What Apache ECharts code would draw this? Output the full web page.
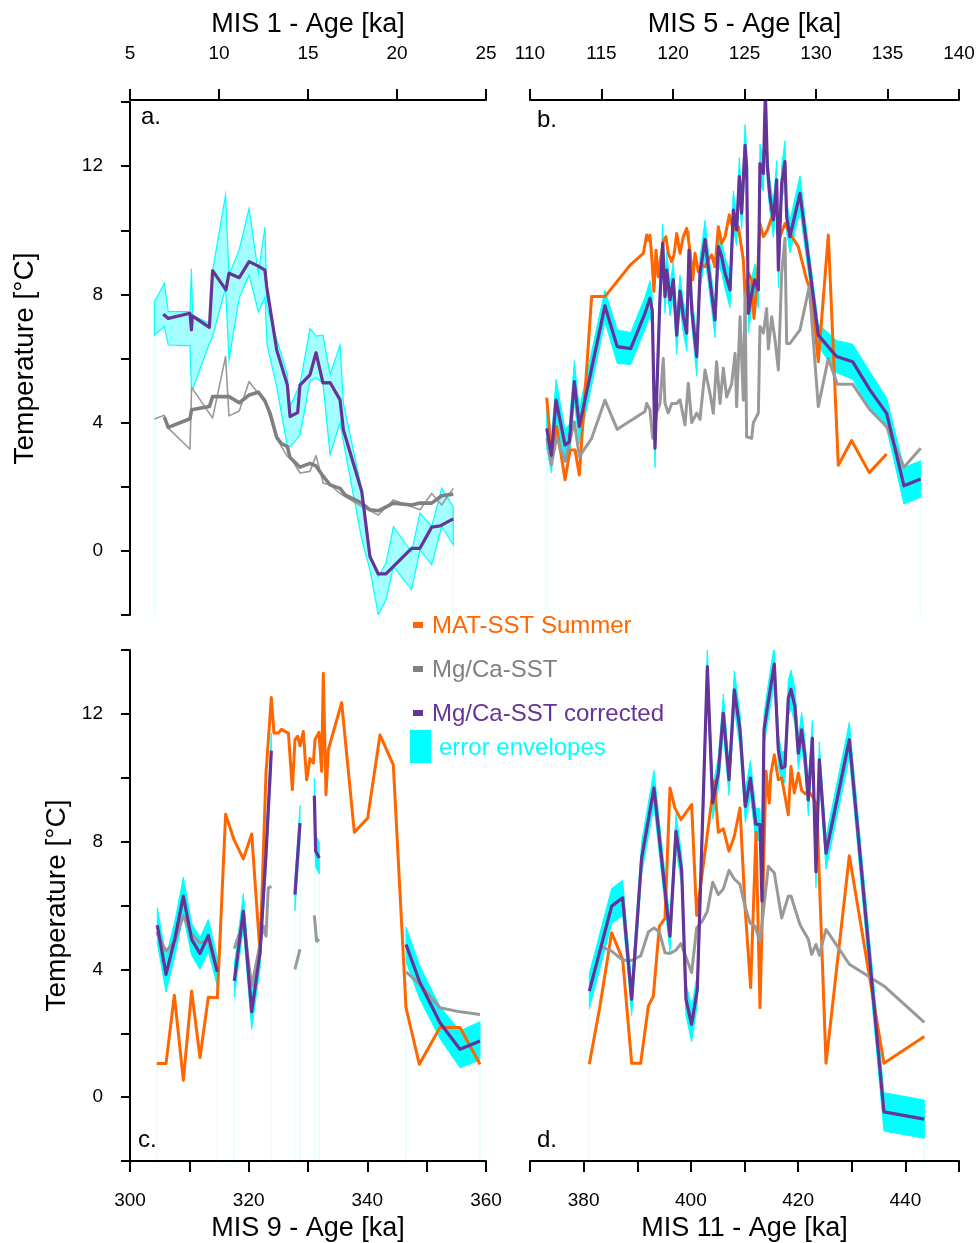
<!DOCTYPE html>
<html><head><meta charset="utf-8">
<script src="https://cdn.jsdelivr.net/npm/echarts@6/dist/echarts.min.js"></script>
<style>html,body{margin:0;padding:0;background:#fff}#c{width:978px;height:1243px}</style>
</head><body><div id="c"></div>
<script>
// ---------- Panel a (MIS 1) ----------
const aCorr = [[6.87,7.38],[7.15,7.25],[8.37,7.41],[8.45,6.89],[8.5,7.33],[9.46,6.97],[9.64,8.74],[10.39,8.14],[10.56,8.66],[11.14,8.52],[11.69,9.02],[12.21,8.88],[12.58,8.76],[12.68,8.24],[13.24,6.27],[13.84,5.17],[13.99,4.19],[14.42,4.31],[14.55,5.17],[15.11,5.49],[15.45,6.18],[15.84,5.24],[16.24,5.25],[16.80,4.71],[16.99,3.77],[18.02,1.85],[18.48,-0.18],[18.95,-0.72],[19.38,-0.72],[20.82,0.08],[21.29,0.08],[21.95,0.74],[22.42,0.78],[23.16,1.0]];
const aMgRaw = [[6.37,4.11],[6.93,4.23],[7.15,3.83],[8.37,3.17],[8.46,5.10],[9.64,4.14],[10.37,6.06],[10.56,4.21],[11.14,4.36],[11.69,5.28],[12.21,4.91],[12.58,4.68],[13.24,3.51],[13.84,2.94],[13.99,2.94],[14.55,2.43],[15.11,2.48],[15.45,2.97],[15.86,2.11],[16.24,2.06],[16.80,1.79],[18.02,1.38],[18.95,1.12],[19.80,1.59],[20.82,1.38],[21.29,1.28],[21.95,1.79],[22.51,1.43],[23.16,1.95]];
const aMgSmooth = [[6.93,4.17],[7.15,3.85],[8.37,4.12],[8.46,4.40],[9.46,4.50],[9.64,4.81],[10.56,4.81],[11.14,4.62],[11.69,4.86],[12.21,4.95],[12.58,4.68],[12.87,4.29],[13.24,3.54],[13.5,3.35],[13.84,3.25],[13.99,2.91],[14.55,2.61],[15.11,2.73],[15.45,2.65],[15.86,2.32],[16.24,2.06],[16.80,1.95],[17.08,1.75],[18.02,1.49],[18.48,1.28],[18.95,1.25],[19.80,1.49],[20.82,1.43],[21.29,1.49],[21.95,1.49],[22.51,1.72],[23.16,1.77]];
// envelope: [age, lower, upper]
const aEnv = [[6.37,6.73,7.77],[6.93,7.0,8.34],[7.15,6.42,7.46],[8.37,6.40,7.46],[8.45,5.12,8.8],[8.52,5.05,7.35],[9.46,6.47,7.1],[9.64,6.68,8.74],[10.37,8.2,11.1],[10.56,5.95,8.6],[11.14,7.9,9.4],[11.69,8.6,10.68],[12.21,7.46,8.66],[12.58,7.9,10.1],[12.70,6.42,7.6],[13.24,5.12,6.6],[13.84,3.25,5.5],[13.99,3.25,4.5],[14.55,3.6,5.2],[15.11,5.3,6.94],[15.45,5.4,6.7],[15.84,5.23,6.73],[16.24,3.0,5.5],[16.80,4.0,6.42],[16.99,3.4,4.6],[18.02,0.35,1.9],[18.48,-0.59,-0.18],[18.95,-2.0,-0.8],[19.38,-1.53,-0.38],[19.80,-0.49,0.76],[20.82,-1.21,-0.04],[21.29,0.03,1.18],[21.95,-0.43,0.76],[22.51,0.76,1.95],[23.16,0.19,1.38]];

// ---------- Panel b (MIS 5) ----------
const bMat = [[111.17,4.78],[111.5,3.04],[111.86,3.88],[112.45,2.22],[112.8,3.15],[113.15,3.15],[113.45,2.37],[114.31,7.93],[115.24,7.93],[117.0,8.91],[117.93,9.28],[118.16,9.85],[118.27,9.69],[118.39,9.85],[118.51,9.18],[118.67,8.09],[118.81,9.38],[118.97,8.55],[119.14,9.12],[119.32,9.64],[119.51,9.80],[119.67,9.28],[119.91,9.02],[120.07,9.23],[120.26,9.90],[120.49,9.28],[120.72,9.80],[120.96,10.06],[121.19,9.38],[121.38,8.45],[121.54,9.28],[121.77,8.71],[122.0,8.92],[122.24,8.86],[122.47,9.07],[122.70,9.23],[122.94,8.86],[123.17,10.11],[123.40,9.59],[123.64,9.80],[123.94,10.48],[124.22,10.01],[124.57,10.11],[124.92,9.07],[125.04,7.93],[125.27,8.66],[125.5,8.45],[125.66,7.25],[125.9,8.45],[126.08,10.21],[126.32,9.80],[126.6,10.01],[126.9,10.4],[127.25,10.6],[127.48,9.80],[127.83,10.21],[128.18,9.9],[128.76,9.49],[129.35,8.45],[129.7,8.03],[130.16,5.9],[130.86,9.85],[131.56,2.67],[132.49,3.44],[133.73,2.44],[134.94,3.02]];
const bMg = [[111.17,3.51],[111.5,2.68],[111.86,3.56],[112.45,2.79],[113.1,4.03],[113.45,2.94],[114.31,3.51],[115.24,4.70],[116.1,3.79],[118.04,4.35],[118.16,4.6],[118.39,4.4],[118.58,3.51],[118.85,4.3],[119.09,4.6],[119.32,6.0],[119.44,4.6],[119.67,4.3],[119.91,4.6],[120.26,4.6],[120.49,4.71],[120.84,3.93],[121.07,5.23],[121.31,4.0],[121.66,4.3],[121.89,4.1],[122.24,5.64],[122.59,4.9],[122.82,4.29],[123.05,5.9],[123.29,4.6],[123.52,5.7],[123.75,4.8],[124.1,5.2],[124.34,6.16],[124.45,4.5],[124.69,7.3],[124.92,4.7],[125.04,8.03],[125.15,3.56],[125.5,3.51],[125.62,4.0],[125.97,4.3],[126.08,7.0],[126.32,6.8],[126.55,7.56],[126.67,6.3],[126.9,7.3],[127.13,6.6],[127.37,5.64],[127.6,8.66],[127.83,9.75],[127.95,6.47],[128.18,6.47],[128.88,6.89],[129.53,8.24],[130.16,4.5],[130.86,6.0],[131.49,5.2],[132.56,5.2],[133.77,4.4],[134.94,3.87],[136.15,2.61],[137.32,3.2]];
// corrected: [age, value, error]
const bCorr = [[111.17,3.82,0.6],[111.5,2.98,0.55],[111.82,4.70,0.65],[112.45,3.30,0.5],[112.75,3.40,0.55],[113.1,5.28,0.65],[113.45,3.88,0.55],[115.24,7.64,0.5],[116.1,6.37,0.52],[117.04,6.31,0.5],[118.04,7.41,0.5],[118.39,7.88,0.55],[118.55,7.5,0.5],[118.74,3.20,0.6],[119.09,7.93,0.5],[119.28,9.59,0.6],[119.44,7.93,0.5],[119.56,8.76,0.55],[119.79,7.83,0.5],[120.02,8.45,0.55],[120.26,6.73,0.6],[120.49,8.1,0.5],[120.72,7.31,0.5],[120.96,6.79,0.55],[121.12,9.38,0.6],[121.31,7.52,0.5],[121.66,6.06,0.6],[121.89,8.66,0.5],[122.24,9.71,0.6],[122.47,8.86,0.5],[122.70,8.03,0.5],[122.94,7.2,0.55],[123.17,9.49,0.6],[123.40,9.18,0.5],[123.64,8.66,0.5],[123.99,8.14,0.55],[124.22,10.63,0.6],[124.45,10.01,0.5],[124.64,11.67,0.6],[124.80,10.53,0.5],[125.04,12.65,0.65],[125.15,11.98,0.55],[125.27,7.41,0.6],[125.5,8.03,0.5],[125.73,8.45,0.5],[125.97,8.14,0.55],[126.08,12.08,0.6],[126.32,11.77,0.55],[126.46,14.3,0.7],[126.6,11.98,0.55],[126.78,11.05,0.5],[127.02,10.32,0.55],[127.25,11.57,0.6],[127.37,8.76,0.55],[127.6,11.46,0.55],[127.83,12.14,0.65],[127.95,10.42,0.5],[128.18,9.8,0.5],[128.88,11.15,0.55],[130.16,6.73,0.35],[131.44,6.06,0.5],[132.56,5.9,0.55],[133.77,5.02,0.57],[134.94,4.29,0.47],[136.15,2.03,0.57],[137.32,2.24,0.57]];

// ---------- Panel c (MIS 9) ---------- (null = gap)
const cMat = [[304.49,1.05],[306.07,1.05],[307.47,3.19],[308.99,0.53],[310.39,3.32],[311.8,1.24],[313.2,3.13],[314.72,3.11],[316.12,8.86],[317.53,8.06],[319.1,7.46],[320.51,8.24],[321.91,4.52],[322.92,10.14],[323.82,12.51],[324.27,11.4],[325.0,11.4],[325.56,11.52],[326.1,11.45],[326.7,11.4],[327.36,9.63],[327.8,11.19],[328.26,11.3],[328.65,11.0],[329.21,11.45],[329.77,9.94],[330.34,10.6],[330.9,10.46],[331.18,11.19],[331.85,11.42],[332.3,10.2],[332.58,13.27],[333.03,9.47],[333.43,10.88],[335.67,12.35],[337.81,8.29],[340.06,8.74],[342.13,11.34],[344.38,10.4],[346.52,2.8],[348.76,1.03],[352.25,2.18],[355.62,2.18],[358.99,1.03]];
const cMg = [[304.49,5.17],[306.07,4.57],[307.58,4.89],[308.99,5.67],[310.39,5.1],[311.8,4.83],[313.2,4.89],[314.72,3.92],null,
  [317.58,4.65],[319.1,5.51],[320.51,3.48],[321.91,4.78],[322.47,5.35],[322.92,5.04],[323.31,6.55],[323.82,6.6],null,
  [327.8,4.0],[328.65,4.63],null,[331.07,5.69],[331.46,4.88],[331.91,4.94],null,
  [346.52,3.92],[348.87,3.53],[352.25,2.8],[355.62,2.67],[358.99,2.59]];
const cCorr = [[304.6,5.38,0.55],[306.07,3.84,0.55],[307.58,4.98,0.55],[308.99,6.29,0.6],[310.39,4.94,0.5],[311.8,4.5,0.5],[313.2,5.06,0.5],[314.72,3.92,0.45],null,
  [317.58,3.64,0.5],[319.1,5.82,0.55],[320.51,2.67,0.55],[321.91,4.52,0.5],[322.92,7.6,0.5],[323.82,10.85,0.55],null,
  [327.8,6.34,0.5],[328.65,8.58,0.55],null,[331.07,9.44,0.55],[331.29,7.7,0.5],[331.91,7.49,0.5],null,
  [346.52,4.78,0.55],[348.87,3.58,0.52],[352.25,2.33,0.5],[355.62,1.5,0.58],[358.99,1.76,0.6]];

// ---------- Panel d (MIS 11) ----------
const dMat = [[381.06,1.03],[383.05,2.85],[385.23,5.15],[387.28,4.31],[388.96,1.06],[390.64,1.06],[392.07,2.85],[393.0,3.16],[394.12,5.35],[395.17,5.6],[396.1,9.68],[397.03,9.05],[398.16,8.69],[400.14,9.16],[401.08,5.69],[404.37,9.89],[405.12,8.29],[406.05,8.4],[407.11,7.7],[408.1,8.17],[409.16,9.05],[410.09,5.98],[411.15,3.43],[412.14,8.29],[412.89,2.80],[414.01,10.2],[414.63,9.21],[414.9,10.1],[415.56,10.72],[416.31,9.94],[416.93,10.0],[418.17,8.84],[418.67,10.35],[419.29,9.52],[420.04,10.15],[420.66,9.6],[421.28,9.5],[421.9,9.6],[422.52,9.45],[423.46,9.16],[425.2,1.06],[429.55,7.56],[436.0,1.06],[443.53,1.9]];
const dMg = [[383.05,4.73],[385.23,4.57],[387.28,4.29],[388.96,4.28],[390.64,4.42],[392.07,5.17],[393.12,5.3],[394.12,5.17],[395.17,4.52],[396.1,4.5],[397.22,4.6],[398.16,4.81],[400.14,3.9],[401.08,5.3],[402.13,5.51],[403.07,5.82],[404.06,6.73],[405.12,6.34],[406.05,6.52],[407.11,7.1],[408.1,6.83],[409.16,6.66],[410.09,5.98],[411.02,5.46],[411.95,5.35],[412.89,4.88],[413.63,5.98],[414.44,7.23],[415.56,7.02],[416.93,5.61],[418.17,6.29],[418.67,6.3],[419.41,5.9],[420.35,5.4],[421.9,4.94],[422.52,4.47],[423.33,4.78],[423.95,4.44],[425.2,5.25],[429.55,4.16],[436.0,3.48],[443.53,2.34]];
const dCorr = [[381.06,3.32,0.55],[385.23,5.98,0.55],[387.28,6.24,0.55],[388.96,3.06,0.5],[390.82,7.49,0.5],[393.12,9.68,0.55],[396.1,5.04,0.5],[397.22,8.32,0.55],[398.28,7.12,0.5],[399.09,3.06,0.5],[400.14,2.28,0.55],[401.2,3.37,0.5],[403.07,13.48,0.6],[404.06,9.21,0.5],[405.12,10.15,0.5],[406.05,12.02,0.6],[407.11,9.94,0.5],[408.1,12.75,0.6],[409.16,11.5,0.55],[410.15,9.1,0.5],[411.1,9.99,0.55],[412.1,8.55,0.5],[412.89,8.53,0.5],[413.26,6.14,0.5],[413.63,11.5,0.5],[414.44,12.39,0.55],[415.56,13.56,0.6],[416.31,10.87,0.5],[416.93,10.3,0.5],[417.55,10.35,0.5],[418.17,12.49,0.55],[418.67,12.77,0.6],[419.41,12.23,0.55],[420.04,10.77,0.5],[420.66,11.5,0.55],[421.28,10.67,0.5],[421.9,9.31,0.5],[422.65,11.24,0.55],[423.33,7.06,0.5],[423.95,10.56,0.55],[425.2,7.64,0.5],[429.55,11.19,0.55],[436.0,-0.46,0.6],[443.53,-0.69,0.6]];

// ---------- Axes / labels ----------
const xAxisNames = ['MIS 1 - Age [ka]','MIS 5 - Age [ka]','MIS 9 - Age [ka]','MIS 11 - Age [ka]'];
const xRanges = [[5,25,5],[110,140,5],[300,360,10],[370,450,10]];
const yRange = [-2,14,2];
const yTitle = 'Temperature [°C]';
const panelLetters = ['a.','b.','c.','d.'];
const legendItems = ['MAT-SST Summer','Mg/Ca-SST','Mg/Ca-SST corrected','error envelopes'];

const ORANGE='#FF6600', GREY='#999999', DGREY='#808080', PURPLE='#663399', CYAN='#00FFFF';
const FONT='"Liberation Sans", Arial, sans-serif';

function splitSegs(arr){const out=[];let cur=[];arr.forEach(p=>{if(p===null){if(cur.length)out.push(cur);cur=[];}else cur.push(p);});if(cur.length)out.push(cur);return out;}
function lineS(i,data,color,w,z){return {type:'line',xAxisIndex:i,yAxisIndex:i,data:data.map(p=>[p[0],p[1]]),showSymbol:false,symbol:'none',lineStyle:{color:color,width:w,join:'round'},itemStyle:{color:color},z:z,silent:true,animation:false,clip:true};}
function envS(i,segs,fill,stroke,lw){
  return {type:'custom',xAxisIndex:i,yAxisIndex:i,z:1,silent:true,animation:false,clip:true,
    data:segs.map((s,k)=>[s[0][0],s[0][1],k]),encode:{x:0,y:1},
    renderItem:function(params,api){
      const s=segs[params.dataIndex];
      const up=s.map(p=>api.coord([p[0],p[2]]));
      const dn=s.map(p=>api.coord([p[0],p[1]])).reverse();
      const f=s[0], l=s[s.length-1];
      const f0=api.coord([f[0],f[1]]), fb=api.coord([f[0],yRange[0]]);
      const l0=api.coord([l[0],l[1]]), lb=api.coord([l[0],yRange[0]]);
      return {type:'group',children:[
        {type:'line',shape:{x1:f0[0],y1:f0[1],x2:fb[0],y2:fb[1]},style:{stroke:'rgba(0,255,255,0.15)',lineWidth:1}},
        {type:'line',shape:{x1:l0[0],y1:l0[1],x2:lb[0],y2:lb[1]},style:{stroke:'rgba(0,255,255,0.15)',lineWidth:1}},
        {type:'polygon',shape:{points:up.concat(dn)},style:{fill:fill,stroke:stroke,lineWidth:lw}}
      ]};
    }};
}
function errSegs(arr){return splitSegs(arr).map(s=>s.map(p=>[p[0],p[1]-p[2],p[1]+p[2]]));}

const grids=[{left:130,top:102,width:356,height:513},{left:530,top:102,width:429,height:513},{left:130,top:650,width:356,height:512},{left:530,top:650,width:429,height:512}];
const xAxes=xRanges.map((r,i)=>({type:'value',gridIndex:i,min:r[0],max:r[1],interval:r[2],position:i<2?'top':'bottom',offset:i<2?2:0,
  name:xAxisNames[i],nameLocation:'middle',nameGap:i<2?62:54,nameTextStyle:{color:'#000',fontSize:27,fontFamily:FONT},
  axisLine:{show:true,onZero:false,lineStyle:{color:'#000',width:2}},axisTick:{show:true,inside:false,length:11,lineStyle:{color:'#000',width:2}},
  axisLabel:{color:'#000',fontSize:19,fontFamily:FONT,margin:i<2?37:30,formatter:v=>(i<2||v%20===0)?String(v):''},splitLine:{show:false}}));
const yAxes=[0,1,2,3].map(i=>({type:'value',gridIndex:i,min:yRange[0],max:yRange[1],interval:yRange[2],show:(i%2===0),
  name:yTitle,nameLocation:'middle',nameGap:i===0?91:59,nameRotate:90,nameTextStyle:{color:'#000',fontSize:28,fontFamily:FONT},
  axisLine:{show:true,onZero:false,lineStyle:{color:'#000',width:2}},axisTick:{show:true,inside:false,length:9,lineStyle:{color:'#000',width:2}},
  axisLabel:{color:'#000',fontSize:19,fontFamily:FONT,margin:27,formatter:v=>(v%4===0&&v>=0&&v<=12)?String(v):''},splitLine:{show:false}}));

const series=[];
// panel a
series.push(envS(0,[aEnv],'rgba(0,255,255,0.36)',CYAN,1.2));
series.push(lineS(0,aMgRaw,GREY,1.6,3));
series.push(lineS(0,aMgSmooth,DGREY,3.6,4));
series.push(lineS(0,aCorr,PURPLE,3.2,5));
// panel b
series.push(envS(1,errSegs(bCorr),CYAN,CYAN,1));
series.push(lineS(1,bMat,ORANGE,3,3));
series.push(lineS(1,bMg,GREY,3,4));
series.push(lineS(1,bCorr,PURPLE,3.2,5));
// panel c
series.push(envS(2,errSegs(cCorr),CYAN,CYAN,1));
series.push(lineS(2,cMat,ORANGE,3,3));
splitSegs(cMg).forEach(s=>series.push(lineS(2,s,GREY,3,4)));
splitSegs(cCorr).forEach(s=>series.push(lineS(2,s,PURPLE,3.2,5)));
// panel d
series.push(envS(3,errSegs(dCorr),CYAN,CYAN,1));
series.push(lineS(3,dMat,ORANGE,3,3));
series.push(lineS(3,dMg,GREY,3,4));
series.push(lineS(3,dCorr,PURPLE,3.2,5));

const letterPos=[[141,118],[537,121],[138,1141],[537,1141]];
const graphic=[];
panelLetters.forEach((t,i)=>graphic.push({type:'text',left:letterPos[i][0],top:letterPos[i][1]-13,z:50,style:{text:t,fill:'#000',font:'24px '+FONT}}));
const legCol=[ORANGE,DGREY,PURPLE];
const legY=[625,669,713];
legCol.forEach((c,k)=>{
  graphic.push({type:'rect',left:413,top:legY[k]-3,z:50,shape:{width:10,height:6},style:{fill:c}});
  graphic.push({type:'text',left:432,top:legY[k]-11,z:50,style:{text:legendItems[k],fill:c,font:'24px '+FONT}});
});
graphic.push({type:'rect',left:410,top:730,z:50,shape:{width:21,height:33},style:{fill:CYAN}});
graphic.push({type:'text',left:439,top:736,z:50,style:{text:legendItems[3],fill:CYAN,font:'24px '+FONT}});

const chart=echarts.init(document.getElementById('c'),null,{renderer:'canvas'});
chart.setOption({animation:false,backgroundColor:'#fff',grid:grids,xAxis:xAxes,yAxis:yAxes,series:series,graphic:graphic});
</script></body></html>
